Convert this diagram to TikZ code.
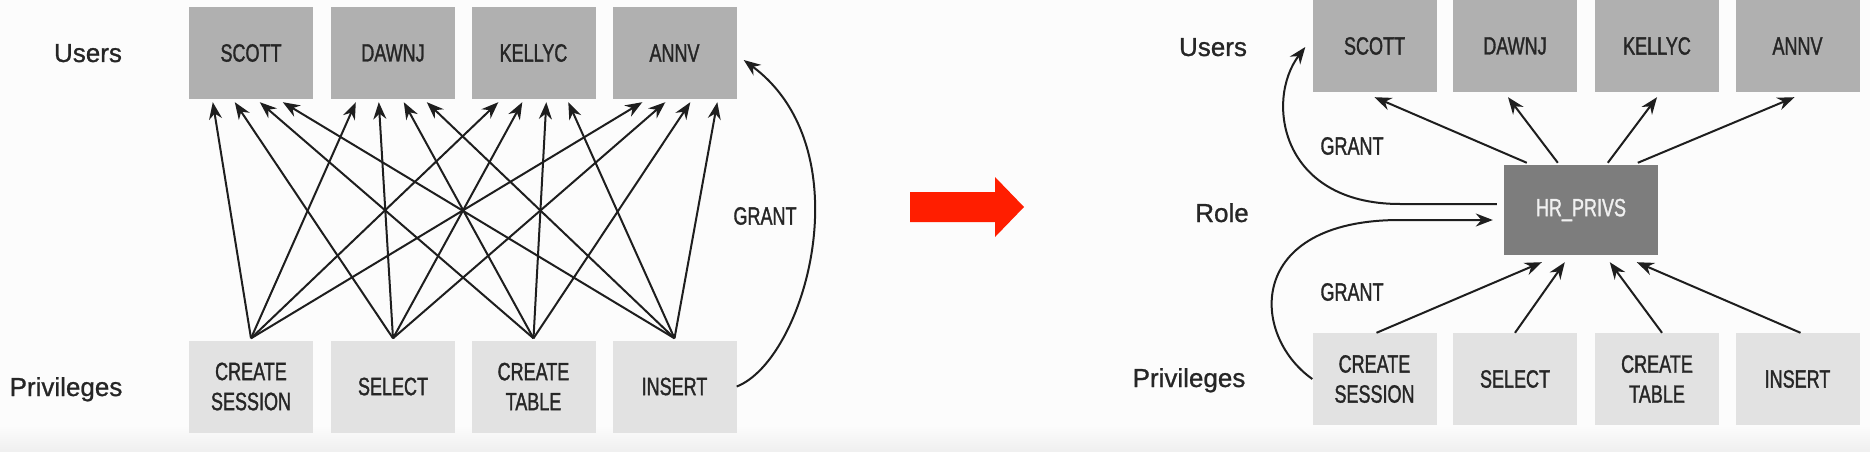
\documentclass[tikz,border=0pt]{standalone}
\usepackage{fontspec}
\setmainfont[FakeBold=0.9]{Liberation Sans}
\newfontfamily\condfont[FakeStretch=0.72,FakeBold=1.3]{Liberation Sans}
\usetikzlibrary{arrows.meta}
\newcommand\bxfont{\condfont\fontsize{25}{30}\selectfont}
\newcommand\lbfont{\fontsize{26}{31}\selectfont}
\definecolor{ugray}{HTML}{B0B0B0}
\definecolor{pgray}{HTML}{E2E2E2}
\definecolor{hrgray}{HTML}{7D7D7D}
\definecolor{txtc}{HTML}{262626}
\definecolor{linec}{HTML}{1E1E1E}
\definecolor{redc}{HTML}{FF1E00}
\definecolor{bandc}{HTML}{EFEFEF}
\tikzset{
  ubox/.style={fill=ugray, minimum width=124pt, minimum height=92pt, inner sep=0pt,
    font=\bxfont, text=txtc, align=center},
  pbox/.style={ubox, fill=pgray},
  hrbox/.style={ubox, fill=hrgray, minimum width=154pt, minimum height=90pt, text=white!94!black},
  lab/.style={font=\lbfont, text=txtc, inner sep=0pt, anchor=base},
  glab/.style={font=\bxfont, text=txtc, inner sep=0pt},
  arr/.style={-{Stealth[length=17pt,width=13pt]}, line width=2pt, draw=linec},
}
\begin{document}
\begin{tikzpicture}[x=1pt,y=-1pt]
\useasboundingbox (0,0) rectangle (1870,452);
\fill[white!99!black] (0,0) rectangle (1870,452);
\shade[top color=white!99!black, bottom color=bandc] (0,425) rectangle (1870,452);

% ---------- left panel ----------
\node[lab] (usersL) at (88,62) {Users};
\node[lab] (privL) at (66,396) {Privileges};

\node[ubox] (u1) at (251,53) {SCOTT};
\node[ubox] (u2) at (393,53) {DAWNJ};
\node[ubox] (u3) at (533.5,53) {KELLYC};
\node[ubox] (u4) at (674.5,53) {ANNV};

\node[pbox] (p1) at (251,386.5) {CREATE\\SESSION};
\node[pbox] (p2) at (393,386.5) {SELECT};
\node[pbox] (p3) at (533.5,386.5) {CREATE\\TABLE};
\node[pbox] (p4) at (674.5,386.5) {INSERT};

\foreach \u/\a/\b/\c/\d in {u1/24/46/71/94, u2/25/48/73/96, u3/27/51/75/97, u4/30/53/78/105}{
  \draw[arr] ([yshift=2pt]p1.north) -- ([xshift=\a pt,yshift=-3pt]\u.south west);
  \draw[arr] ([yshift=2pt]p2.north) -- ([xshift=\b pt,yshift=-3pt]\u.south west);
  \draw[arr] ([yshift=2pt]p3.north) -- ([xshift=\c pt,yshift=-3pt]\u.south west);
  \draw[arr] ([yshift=2pt]p4.north) -- ([xshift=\d pt,yshift=-3pt]\u.south west);
}

\coordinate (gL) at ([xshift=7pt,yshift=-7pt]u4.east);
\draw[arr] (p4.east) .. controls (805,360) and (865,150) .. (gL);
\node[glab] (grantL) at (765,216) {GRANT};

% ---------- red arrow ----------
\fill[redc] (910,192) -- (995,192) -- (995,177) -- (1024,207) -- (995,237) -- (995,222) -- (910,222) -- cycle;

% ---------- right panel ----------
\node[lab] (usersR) at (1213,56) {Users};
\node[lab] (roleR) at (1222,222) {Role};
\node[lab] (privR) at (1189,387) {Privileges};

\node[ubox] (v1) at (1374.5,46) {SCOTT};
\node[ubox] (v2) at (1515,46) {DAWNJ};
\node[ubox] (v3) at (1657,46) {KELLYC};
\node[ubox] (v4) at (1797.5,46) {ANNV};

\node[pbox] (q1) at (1374.5,379) {CREATE\\SESSION};
\node[pbox] (q2) at (1515,379) {SELECT};
\node[pbox] (q3) at (1657,379) {CREATE\\TABLE};
\node[pbox] (q4) at (1797.5,379) {INSERT};

\node[hrbox] (hr) at (1581,210) {HR\_PRIVS};

\draw[arr] ([xshift=23pt,yshift=2pt]hr.north west) -- ([yshift=-5pt]v1.south);
\draw[arr] ([xshift=54pt,yshift=2pt]hr.north west) -- ([xshift=-7pt,yshift=-5pt]v2.south);
\draw[arr] ([xshift=104pt,yshift=2pt]hr.north west) -- ([yshift=-5pt]v3.south);
\draw[arr] ([xshift=134pt,yshift=2pt]hr.north west) -- ([xshift=-3pt,yshift=-5pt]v4.south);

\draw[arr] ([xshift=2pt]q1.north) -- ([xshift=38pt,yshift=-7pt]hr.south west);
\draw[arr] (q2.north) -- ([xshift=61pt,yshift=-7pt]hr.south west);
\draw[arr] ([xshift=5pt]q3.north) -- ([xshift=106pt,yshift=-7pt]hr.south west);
\draw[arr] ([xshift=3pt]q4.north) -- ([xshift=133pt,yshift=-7pt]hr.south west);

\coordinate (gR1s) at ([xshift=-7pt,yshift=6pt]hr.west);
\coordinate (gR1e) at ([xshift=-7pt,yshift=-1pt]v1.west);
\draw[arr] (gR1s) -- (1400,204) .. controls (1280,204) and (1265,100) .. (gR1e);
\coordinate (gR2e) at ([xshift=-11pt,yshift=-10pt]hr.west);
\draw[arr] (q1.west) .. controls (1250,335) and (1245,220) .. (1400,220) -- (gR2e);
\node[glab] (grantR1) at (1352,146) {GRANT};
\node[glab] (grantR2) at (1352,292) {GRANT};
\end{tikzpicture}
\end{document}
